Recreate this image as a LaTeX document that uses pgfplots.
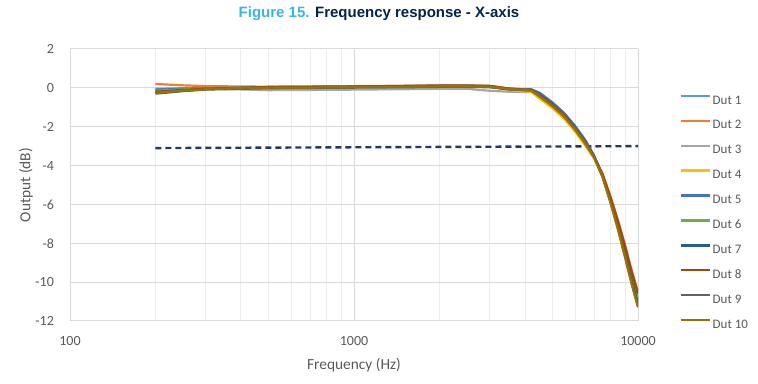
\documentclass[border=0pt]{standalone}
\usepackage{fontspec}
\setmainfont{Carlito}
\newfontfamily\titlefont{Liberation Sans}
\usepackage{pgfplots}
\usepackage{pgfplotstable}
\pgfplotsset{compat=1.18}
\definecolor{cA}{HTML}{5B9BD5}
\definecolor{cB}{HTML}{ED7D31}
\definecolor{cC}{HTML}{A5A5A5}
\definecolor{cD}{HTML}{FFC000}
\definecolor{cE}{HTML}{4472C4}
\definecolor{cF}{HTML}{70AD47}
\definecolor{cG}{HTML}{255E91}
\definecolor{cH}{HTML}{9E480E}
\definecolor{cI}{HTML}{636363}
\definecolor{cJ}{HTML}{997300}
\definecolor{stblue}{HTML}{3CB4E6}
\definecolor{stdark}{HTML}{03234B}
\definecolor{navy}{HTML}{1F3864}
\definecolor{txt}{HTML}{595959}
\definecolor{gridmaj}{HTML}{D9D9D9}
\definecolor{gridmin}{HTML}{EDEDED}

\pgfplotstableread{
f     d1     d2     d3     d4     d5     d6     d7     d8     d9     d10
200   -0.05  0.20   -0.20  -0.20  -0.10  -0.15  -0.25  -0.20  -0.30  -0.25
250   -0.02  0.13   -0.11  -0.11  -0.05  -0.08  -0.14  -0.11  -0.17  -0.14
300   0.00   0.09   -0.05  -0.05  -0.02  -0.04  -0.07  -0.05  -0.09  -0.07
400   0.02   0.07   -0.08  0.00   0.01   0.00   -0.01  0.00   -0.05  -0.01
500   0.04   0.06   -0.12  0.02   0.04   0.03   0.02   0.04   -0.02  0.01
600   0.05   0.07   -0.11  0.03   0.05   0.04   0.03   0.05   -0.01  0.02
700   0.05   0.07   -0.11  0.03   0.05   0.04   0.03   0.05   -0.01  0.02
800   0.06   0.08   -0.10  0.04   0.06   0.05   0.04   0.06   0.00   0.03
900   0.06   0.08   -0.10  0.04   0.06   0.05   0.04   0.06   0.00   0.03
1000  0.07   0.09   -0.09  0.05   0.07   0.06   0.05   0.07   0.01   0.04
1200  0.08   0.10   -0.08  0.06   0.08   0.07   0.06   0.08   0.02   0.05
1500  0.09   0.11   -0.07  0.07   0.09   0.08   0.07   0.09   0.03   0.06
2000  0.11   0.13   -0.05  0.09   0.11   0.10   0.09   0.11   0.05   0.08
2500  0.11   0.13   -0.05  0.09   0.11   0.10   0.09   0.11   0.05   0.08
3000  0.09   0.11   -0.15  0.07   0.09   0.08   0.07   0.09   0.03   0.06
3500  -0.04  -0.03  -0.20  -0.10  -0.04  -0.05  -0.06  -0.04  -0.08  -0.06
4000  -0.10  -0.08  -0.22  -0.18  -0.08  -0.10  -0.11  -0.10  -0.12  -0.12
4200  -0.10  -0.12  -0.20  -0.20  -0.07  -0.12  -0.12  -0.10  -0.13  -0.13
4500  -0.35  -0.40  -0.50  -0.55  -0.25  -0.40  -0.35  -0.35  -0.40  -0.45
5000  -0.85  -0.90  -1.00  -1.05  -0.75  -0.90  -0.85  -0.85  -0.90  -0.95
5500  -1.40  -1.45  -1.55  -1.60  -1.30  -1.45  -1.40  -1.40  -1.45  -1.50
6000  -2.05  -2.10  -2.20  -2.25  -1.95  -2.10  -2.05  -2.05  -2.10  -2.15
6500  -2.75  -2.80  -2.90  -2.95  -2.65  -2.80  -2.75  -2.75  -2.80  -2.85
7000  -3.52  -3.55  -3.60  -3.62  -3.47  -3.55  -3.52  -3.52  -3.55  -3.58
7500  -4.48  -4.42  -4.50  -4.50  -4.52  -4.50  -4.54  -4.44  -4.57  -4.58
8000  -5.71  -5.59  -5.75  -5.75  -5.79  -5.75  -5.83  -5.63  -5.89  -5.91
8500  -6.99  -6.81  -7.05  -7.05  -7.11  -7.05  -7.17  -6.87  -7.26  -7.29
9000  -8.32  -8.08  -8.40  -8.40  -8.48  -8.40  -8.56  -8.16  -8.68  -8.72
9500  -9.66  -9.39  -9.75  -9.75  -9.84  -9.75  -9.93  -9.48  -10.07 -10.11
10000 -10.80 -10.50 -10.90 -10.90 -11.00 -10.90 -11.10 -10.60 -11.25 -11.30
}\data

\begin{document}
\begin{tikzpicture}
\path[use as bounding box] (0,0) rectangle (379pt,192pt);
\node[font=\titlefont\bfseries\fontsize{7.5}{9}\selectfont, inner sep=0pt] at (189.5pt,185pt)
  {\textcolor{stblue}{Figure 15.} \textcolor{stdark}{Frequency response - X-axis}};
\begin{axis}[
  at={(35pt,31.5pt)}, anchor=south west,
  scale only axis, width=284pt, height=136pt,
  xmode=log, xmin=100, xmax=10000, ymin=-12, ymax=2,
  xtick={100,1000,10000}, xticklabels={100,1000,10000},
  minor xtick={200,300,400,500,600,700,800,900,2000,3000,4000,5000,6000,7000,8000,9000},
  ytick={-12,-10,-8,-6,-4,-2,0,2}, yticklabels={-12,-10,-8,-6,-4,-2,0,2},
  major tick length=0pt, minor tick length=0pt,
  axis x line*=bottom, axis y line*=left,
  axis line style={draw=gridmaj, line width=0.5pt, -},
  xmajorgrids, xminorgrids, ymajorgrids,
  major grid style={draw=gridmaj, line width=0.5pt},
  minor grid style={draw=gridmin, line width=0.5pt},
  tick label style={font=\fontsize{7}{8}\selectfont, text=txt},
  xticklabel style={yshift=-4pt},
  yticklabel style={xshift=-4.5pt},
  xlabel={Frequency (Hz)}, ylabel={Output (dB)},
  label style={font=\fontsize{7.7}{9}\selectfont, text=txt},
  xlabel style={at={(axis description cs:0.5,-0.162)}, anchor=center},
  ylabel style={at={(axis description cs:-0.0775,0.5)}, anchor=center},
  legend style={at={(axis description cs:1.072,0.836)}, anchor=north west,
    draw=none, fill=none, inner sep=0pt, row sep=5.95pt, column sep=1pt,
    font=\fontsize{6.5}{7.5}\selectfont, text=txt,
    nodes={inner sep=0pt, text height=5pt, text depth=1.5pt}},
  legend cell align=left,
  legend image code/.code={\draw[#1, line width=1.2pt] (0pt,2.3pt) -- (14.5pt,2.3pt);},
  every axis plot/.append style={line width=1.1pt},
]
\addplot[navy, dashed, dash pattern=on 3pt off 2pt, line width=1.2pt, forget plot] coordinates {(200,-3.1) (10000,-3.0)};
\addplot[cA] table[x=f,y=d1] {\data}; \addlegendentry{Dut 1}
\addplot[cB] table[x=f,y=d2] {\data}; \addlegendentry{Dut 2}
\addplot[cC] table[x=f,y=d3] {\data}; \addlegendentry{Dut 3}
\addplot[cD] table[x=f,y=d4] {\data}; \addlegendentry{Dut 4}
\addplot[cE] table[x=f,y=d5] {\data}; \addlegendentry{Dut 5}
\addplot[cF] table[x=f,y=d6] {\data}; \addlegendentry{Dut 6}
\addplot[cG] table[x=f,y=d7] {\data}; \addlegendentry{Dut 7}
\addplot[cH] table[x=f,y=d8] {\data}; \addlegendentry{Dut 8}
\addplot[cI] table[x=f,y=d9] {\data}; \addlegendentry{Dut 9}
\addplot[cJ] table[x=f,y=d10] {\data}; \addlegendentry{Dut 10}
\end{axis}
\end{tikzpicture}
\end{document}
